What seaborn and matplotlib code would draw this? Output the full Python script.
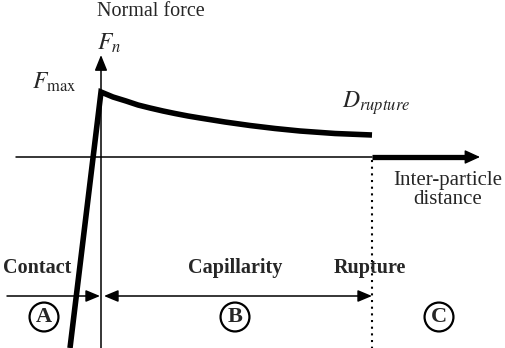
import numpy as np
import pandas as pd
import matplotlib
matplotlib.use("Agg")
import matplotlib.pyplot as plt
import seaborn as sns

# capillary force curve (distance, force), origin at axis crossing
cap_dist = [0, 12, 25, 37, 49, 62, 74, 87, 99, 124, 149, 174, 199, 234, 271]
cap_force = [65, 60, 56, 52, 49, 46, 43.5, 41, 39, 35, 31.5, 28.5, 26, 23.5, 22]

# contact (repulsive) branch, from the bottom edge up to F_max
contact_dist = [-31, 0]
contact_force = [-191, 65]

d_rupture = 271

regions = ["Contact", "Capillarity", "Rupture"]
region_x = [-64, 134, 269]
circles = ["A", "B", "C"]
circle_x = [-57, 134, 338]

sns.set_style("white")
plt.rcParams['font.family'] = ['Liberation Serif', 'DejaVu Serif']
plt.rcParams['mathtext.fontset'] = 'stix'

fig = plt.figure(figsize=(5.05, 3.48), dpi=100)
ax = fig.add_axes([0, 0, 1, 1])
ax.set_xlim(-101, 404)
ax.set_ylim(-191, 157)
ax.axis('off')

# contact branch and capillary branch drawn as one path so the peak is a sharp corner
law = pd.DataFrame({"d": contact_dist + cap_dist[1:],
                    "f": contact_force + cap_force[1:]})
sns.lineplot(data=law, x="d", y="f", color='k', linewidth=4, ax=ax, sort=False,
             estimator=None, solid_capstyle='butt', solid_joinstyle='miter')

# axes
ax.annotate('', xy=(0, 102), xytext=(0, -191),
            arrowprops=dict(arrowstyle='-|>,head_length=9.4,head_width=3.8',
                            mutation_scale=1, lw=1.1, color='k', shrinkA=0, shrinkB=0))
ax.plot([-85, d_rupture], [0, 0], color='k', lw=1.1)
ax.plot([d_rupture, 368], [0, 0], color='k', lw=3.8, solid_capstyle='butt')
ax.annotate('', xy=(379, 0), xytext=(360, 0),
            arrowprops=dict(arrowstyle='-|>,head_length=9.4,head_width=4.3',
                            mutation_scale=1, lw=1, color='k', shrinkA=0, shrinkB=0))
ax.plot([d_rupture, d_rupture], [-3, -191], color='k', lw=1.5, linestyle=(0, (1, 2.2)))

# region arrows
ax.annotate('', xy=(-1, -139), xytext=(-94, -139),
            arrowprops=dict(arrowstyle='-|>,head_length=8.6,head_width=3.6',
                            mutation_scale=1, lw=1.1, color='k', shrinkA=0, shrinkB=0))
ax.annotate('', xy=(3, -139), xytext=(d_rupture, -139),
            arrowprops=dict(arrowstyle='<|-|>,head_length=8.6,head_width=3.6',
                            mutation_scale=1, lw=1.1, color='k', shrinkA=0, shrinkB=0))

# labels
ax.text(50, 146, "Normal force", ha='center', va='center', fontsize=14.5)
ax.text(-4, 107, r'$F_n$', ha='left', va='baseline', fontsize=17)
ax.text(-69, 68, r'$F_{\mathrm{max}}$', ha='left', va='baseline', fontsize=17)
ax.text(241, 49, r'$D_{rupture}$', ha='left', va='baseline', fontsize=17)
ax.text(347, -33, "Inter-particle\ndistance", ha='center', va='center',
        fontsize=15, linespacing=1.0)

for lab, x in zip(regions, region_x):
    ax.text(x, -111, lab, ha='center', va='center', fontsize=14.5, fontweight='bold')
for lab, x in zip(circles, circle_x):
    ax.text(x, -160, lab, ha='center', va='center', fontsize=16, fontweight='bold',
            bbox=dict(boxstyle='circle,pad=0.2', fc='none', ec='k', lw=1.6))

fig.savefig("out.png", dpi=100)
